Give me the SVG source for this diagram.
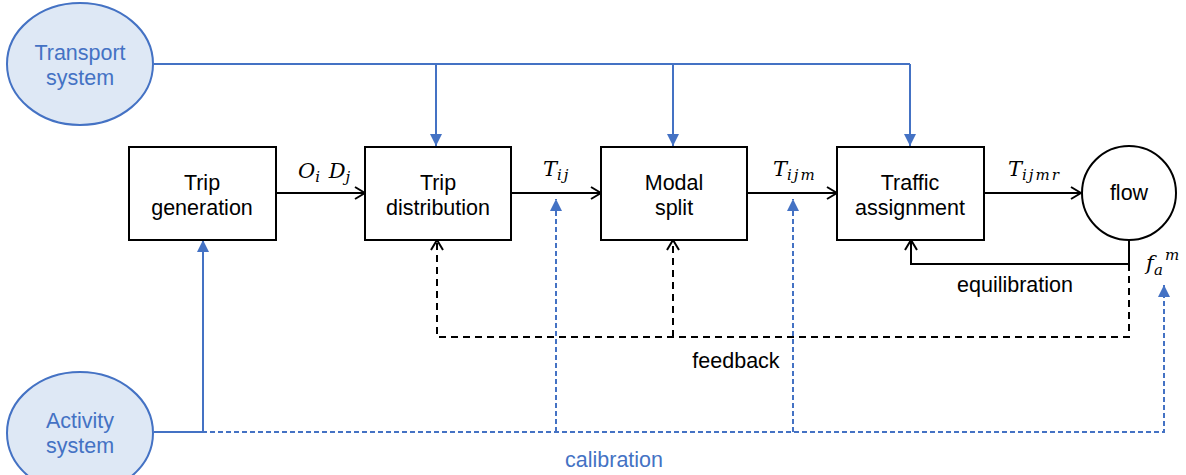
<svg xmlns="http://www.w3.org/2000/svg" width="1186" height="475" viewBox="0 0 1186 475">
<style>
.box{fill:#fff;stroke:#000;stroke-width:2}
.ell{fill:#DEE8F5;stroke:#4472C4;stroke-width:2}
.t{font-family:"Liberation Sans",Arial,sans-serif;font-size:21.5px;text-anchor:middle;fill:#000}
.tb{font-family:"Liberation Sans",Arial,sans-serif;font-size:21.5px;text-anchor:middle;fill:#4472C4}
.m{font-family:"DejaVu Serif","Liberation Serif",serif;font-style:italic;font-size:21px;fill:#000}
.sub{font-size:15px;letter-spacing:2px}
.k{fill:none;stroke:#000;stroke-width:2}
.kd{fill:none;stroke:#000;stroke-width:2;stroke-dasharray:7,5}
.b{fill:none;stroke:#4472C4;stroke-width:2}
.bd{fill:none;stroke:#4472C4;stroke-width:2;stroke-dasharray:5,3}
</style>
<defs>
<marker id="ak" viewBox="0 0 12 14" refX="11" refY="7" markerWidth="12" markerHeight="14" markerUnits="userSpaceOnUse" orient="auto">
<path d="M1,1 L11,7 L1,13" fill="none" stroke="#000" stroke-width="2"/>
</marker>
<marker id="ab" viewBox="0 0 12 12" refX="12" refY="6" markerWidth="12" markerHeight="12" markerUnits="userSpaceOnUse" orient="auto">
<path d="M0,0 L12,6 L0,12 Z" fill="#4472C4"/>
</marker>
</defs>

<g id="connectors">
<path class="b" d="M154,64 H910"/>
<path class="b" d="M436,64 V146" marker-end="url(#ab)"/>
<path class="b" d="M673,64 V146" marker-end="url(#ab)"/>
<path class="b" d="M910,64 V146" marker-end="url(#ab)"/>
<path class="k" d="M277,193 H365" marker-end="url(#ak)"/>
<path class="k" d="M510,193 H601" marker-end="url(#ak)"/>
<path class="k" d="M746,193 H837" marker-end="url(#ak)"/>
<path class="k" d="M984,193 H1081" marker-end="url(#ak)"/>
<path class="k" d="M1129,240 V264 H911 V240" marker-end="url(#ak)"/>
<path class="kd" d="M1129,264 V337 H437 V240" marker-end="url(#ak)"/>
<path class="kd" d="M673,337 V240" marker-end="url(#ak)"/>
<path class="bd" d="M154,432 H1164 V285" marker-end="url(#ab)"/>
<path class="bd" d="M556,432 V199" marker-end="url(#ab)"/>
<path class="bd" d="M793,432 V199" marker-end="url(#ab)"/>
<path class="b" d="M154,432 H203 V240" marker-end="url(#ab)"/>
</g>

<g id="transport-system">
<ellipse class="ell" cx="80" cy="64" rx="73" ry="61"/>
<text class="tb" x="80" y="60">Transport</text>
<text class="tb" x="80" y="85">system</text>
</g>
<g id="activity-system">
<ellipse class="ell" cx="80" cy="433" rx="73" ry="61"/>
<text class="tb" x="80" y="428">Activity</text>
<text class="tb" x="80" y="453">system</text>
</g>

<g id="trip-generation">
<rect class="box" x="129" y="147" width="147" height="93"/>
<text class="t" x="202" y="190">Trip</text>
<text class="t" x="202" y="215">generation</text>
</g>
<g id="trip-distribution">
<rect class="box" x="365" y="147" width="146" height="93"/>
<text class="t" x="438" y="190">Trip</text>
<text class="t" x="438" y="215">distribution</text>
</g>
<g id="modal-split">
<rect class="box" x="601" y="147" width="146" height="93"/>
<text class="t" x="674" y="190">Modal</text>
<text class="t" x="674" y="215">split</text>
</g>
<g id="traffic-assignment">
<rect class="box" x="837" y="147" width="147" height="93"/>
<text class="t" x="910" y="190">Traffic</text>
<text class="t" x="910" y="215">assignment</text>
</g>
<g id="flow">
<circle cx="1129" cy="193" r="47" fill="#fff" stroke="#000" stroke-width="2"/>
<text class="t" x="1129" y="200">flow</text>
</g>

<g id="labels">
<text class="m" x="298" y="178">O<tspan class="sub" dy="4">i</tspan><tspan dy="-4"> D</tspan><tspan class="sub" dy="4">j</tspan></text>
<text class="m" x="543" y="176">T<tspan class="sub" dy="4">ij</tspan></text>
<text class="m" x="773" y="176">T<tspan class="sub" dy="4">ijm</tspan></text>
<text class="m" x="1008" y="176">T<tspan class="sub" dy="4">ijmr</tspan></text>
<text class="m" x="1146" y="270">f</text>
<text class="m sub" x="1154" y="275">a</text>
<text class="m sub" x="1165" y="260">m</text>
<text class="t" x="1015" y="292">equilibration</text>
<text class="t" x="736" y="368">feedback</text>
<text class="tb" x="614" y="467">calibration</text>
</g>
</svg>
